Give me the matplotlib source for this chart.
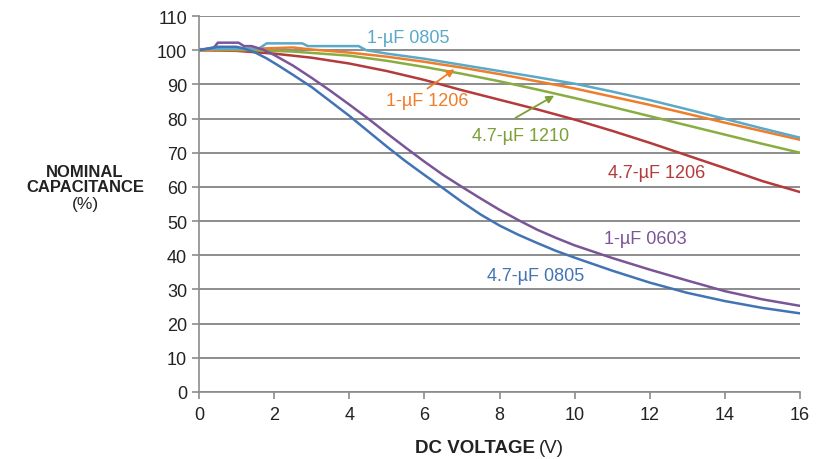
import matplotlib
matplotlib.use("Agg")
import matplotlib.pyplot as plt

plt.rcParams['font.family'] = ['Liberation Sans', 'DejaVu Sans']

# DC bias (V) vs. nominal capacitance (%)
v_1u_0805 = [0, 1.6, 1.8, 2.75, 2.9, 4.25, 4.45, 5, 6, 7, 8, 9, 10, 11, 12, 13, 14, 15, 16]
c_1u_0805 = [100.3, 100.5, 102, 102, 101.2, 101.2, 100, 99.0, 97.5, 95.7, 93.9, 92.1,
             90.2, 87.9, 85.4, 82.7, 79.9, 77.1, 74.4]

v_1u_1206 = [0, 1.7, 2.5, 3.0, 4, 5, 6, 7, 8, 9, 10, 11, 12, 13, 14, 15, 16]
c_1u_1206 = [100, 100.5, 100.8, 100.2, 99.3, 98.1, 96.6, 94.9, 93.0, 90.9, 88.8,
             86.4, 84.0, 81.4, 78.8, 76.3, 73.8]

v_47u_1210 = [0, 1.5, 2.5, 3, 4, 5, 6, 7, 8, 9, 10, 11, 12, 13, 14, 15, 16]
c_47u_1210 = [100, 100, 99.6, 99.2, 98.4, 96.9, 95.1, 93.1, 90.9, 88.5, 86.0, 83.4,
              80.7, 78.0, 75.3, 72.6, 70.0]

v_47u_1206 = [0, 1, 2, 3, 4, 5, 6, 7, 8, 9, 10, 11, 12, 13, 14, 15, 16]
c_47u_1206 = [100, 99.8, 99.0, 97.8, 96.1, 93.9, 91.3, 88.3, 85.5, 82.7, 79.7, 76.4,
              72.9, 69.2, 65.5, 61.7, 58.5]

v_1u_0603 = [0, 0.4, 0.5, 1.05, 1.2, 1.4, 1.7, 2, 2.5, 3, 3.5, 4, 4.5, 5, 5.5, 6, 6.5, 7,
             7.5, 8, 8.5, 9, 9.5, 10, 11, 12, 13, 14, 15, 16]
c_1u_0603 = [100, 100.8, 102.2, 102.2, 101.2, 101.2, 100.2, 98.6, 95.5, 91.9, 88.1, 84.1,
             80.0, 75.7, 71.5, 67.4, 63.5, 60.0, 56.6, 53.3, 50.3, 47.5, 45.1, 42.9,
             39.2, 35.8, 32.6, 29.5, 27.1, 25.2]

v_47u_0805 = [0, 0.3, 0.5, 1.0, 1.2, 1.5, 1.8, 2.1, 2.5, 3, 3.5, 4, 4.5, 5, 5.5, 6, 6.5, 7,
              7.5, 8, 8.5, 9, 9.5, 10, 11, 12, 13, 14, 15, 16]
c_47u_0805 = [100, 100.6, 101, 101, 100.5, 99.3, 97.6, 95.6, 92.8, 89.2, 85.0, 80.8,
              76.3, 71.8, 67.5, 63.5, 59.6, 55.6, 51.9, 48.7, 46.0, 43.6, 41.3, 39.3,
              35.5, 32.0, 29.0, 26.6, 24.6, 23.0]

x_ticks = list(range(0, 17, 2))
y_ticks = list(range(0, 111, 10))

fig = plt.figure(figsize=(8.18, 4.6), dpi=100)
ax = fig.add_axes([0.2433, 0.1457, 0.7347, 0.8173])

ax.plot(v_47u_1206, c_47u_1206, color='#b43a3c', lw=1.8)
ax.plot(v_47u_1210, c_47u_1210, color='#8aad42', lw=1.8)
ax.plot(v_1u_1206, c_1u_1206, color='#ef7d2a', lw=1.8)
ax.plot(v_1u_0805, c_1u_0805, color='#5aa9c8', lw=1.8)
ax.plot(v_1u_0603, c_1u_0603, color='#7a5597', lw=1.8)
ax.plot(v_47u_0805, c_47u_0805, color='#4274b4', lw=1.8)

ax.set_xlim(0, 16)
ax.set_ylim(0, 110)
ax.set_xticks(x_ticks)
ax.set_yticks(y_ticks)
ax.yaxis.grid(True, color='#8c8c8c', lw=1.4)
ax.set_axisbelow(True)
for s in ['top', 'right']:
    ax.spines[s].set_visible(False)
for s in ['left', 'bottom']:
    ax.spines[s].set_color('#8c8c8c')
    ax.spines[s].set_linewidth(1.2)
ax.tick_params(colors='#8c8c8c', labelcolor='#222222', labelsize=13, length=5, width=1.2)
ax.tick_params(axis='x', pad=5)

fs = 13
ax.text(5.56, 103.8, '1-µF 0805', color='#5aa9c8', fontsize=fs, ha='center', va='center')
ax.text(6.07, 85.4, '1-µF 1206', color='#ef7d2a', fontsize=fs, ha='center', va='center')
ax.annotate('', xy=(6.86, 94.9), xytext=(6.02, 88.3),
            arrowprops=dict(arrowstyle='-|>', color='#ef7d2a', lw=1.3, mutation_scale=11))
ax.text(8.57, 75.1, '4.7-µF 1210', color='#7c9f36', fontsize=fs, ha='center', va='center')
ax.annotate('', xy=(9.52, 87.1), xytext=(8.36, 79.8),
            arrowprops=dict(arrowstyle='-|>', color='#7c9f36', lw=1.3, mutation_scale=11))
ax.text(12.17, 64.3, '4.7-µF 1206', color='#b43a3c', fontsize=fs, ha='center', va='center')
ax.text(11.87, 45.0, '1-µF 0603', color='#7a5597', fontsize=fs, ha='center', va='center')
ax.text(8.95, 34.2, '4.7-µF 0805', color='#4274b4', fontsize=fs, ha='center', va='center')

# axis titles
fig.text(85 / 818, 1 - 180 / 460, 'NOMINAL\nCAPACITANCE', ha='center', va='center',
         fontsize=12, fontweight='bold', color='#222222', linespacing=1.0)
fig.text(85 / 818, 1 - 205 / 460, '(%)', ha='center', va='center',
         fontsize=12.5, color='#222222')
fig.text(535 / 818, 1 - 449 / 460, 'DC VOLTAGE', ha='right', va='center',
         fontsize=13.5, fontweight='bold', color='#222222')
fig.text(539 / 818, 1 - 449 / 460, '(V)', ha='left', va='center',
         fontsize=13.5, color='#222222')

fig.savefig('out.png', dpi=100)
